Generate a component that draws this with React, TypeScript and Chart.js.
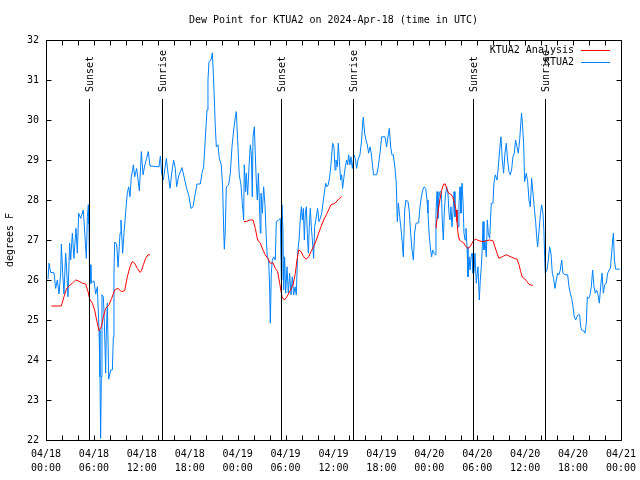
import React, { useEffect, useRef } from "react";
import { Chart, registerables } from "chart.js";

Chart.register(...registerables);

const TITLE = "Dew Point for KTUA2 on 2024-Apr-18 (time in UTC)";
const Y_LABEL = "degrees F";
const SERIES_ANALYSIS = "KTUA2 Analysis";
const SERIES_OBS = "KTUA2";

const xDateLabels = ["04/18", "04/18", "04/18", "04/18", "04/19", "04/19", "04/19", "04/19", "04/20", "04/20", "04/20", "04/20", "04/21"];
const xTimeLabels = ["00:00", "06:00", "12:00", "18:00", "00:00", "06:00", "12:00", "18:00", "00:00", "06:00", "12:00", "18:00", "00:00"];

const sunEventNames = ["Sunset", "Sunrise", "Sunset", "Sunrise", "Sunset", "Sunrise"];
const sunEventHours = [5.42, 14.56, 29.46, 38.48, 53.5, 62.5];

// Observations (hours since 04/18 00:00 UTC, degrees F)
const obsHours = [
  0.25, 0.38, 0.58, 1.0, 1.21, 1.42, 1.63, 1.84, 1.92, 2.09, 2.25, 2.46, 2.59, 2.75, 2.96, 3.09, 3.3, 3.5, 3.59, 3.76,
  3.92, 4.09, 4.34, 4.67, 4.92, 5.05, 5.18, 5.3, 5.38, 5.47, 5.55, 5.63, 6.01, 6.22, 6.43, 6.64, 6.76, 6.84, 6.93, 7.01,
  7.18, 7.3, 7.47, 7.55, 7.68, 7.85, 8.1, 8.31, 8.43, 8.51, 8.6, 8.85, 9.02, 9.27, 9.39, 9.6, 9.77, 9.97, 10.18, 10.35,
  10.52, 10.68, 10.85, 10.94, 11.1, 11.35, 11.69, 11.85, 11.94, 12.15, 12.35, 12.6, 12.81, 13.02, 14.15, 14.32, 14.48, 14.69, 15.07, 15.28,
  15.53, 15.78, 15.98, 16.19, 16.36, 16.61, 17.03, 17.28, 17.61, 17.86, 18.16, 18.41, 18.7, 18.91, 19.32, 19.53, 19.74, 19.95, 20.16, 20.28,
  20.41, 20.66, 20.83, 20.99, 21.2, 21.33, 21.53, 21.7, 21.95, 22.12, 22.25, 22.33, 22.45, 22.58, 22.87, 23.08, 23.29, 23.5, 23.71, 23.83,
  24.0, 24.2, 24.41, 24.58, 24.75, 24.83, 25.0, 25.08, 25.25, 25.42, 25.59, 25.72, 25.83, 25.92, 26.09, 26.21, 26.34, 26.46, 26.59, 26.71,
  26.84, 26.92, 27.09, 27.25, 27.42, 27.59, 27.71, 27.88, 28.0, 28.09, 28.21, 28.34, 28.51, 28.71, 28.84, 29.13, 29.34, 29.47, 29.55, 29.67,
  29.76, 29.88, 30.01, 30.18, 30.34, 30.51, 30.68, 30.84, 31.01, 31.18, 31.34, 31.51, 31.68, 31.84, 31.97, 32.1, 32.22, 32.35, 32.47, 32.6,
  32.72, 32.85, 32.97, 33.1, 33.22, 33.35, 33.51, 33.64, 33.85, 34.01, 34.18, 34.35, 34.52, 34.68, 34.85, 35.02, 35.18, 35.35, 35.52, 35.68,
  35.89, 36.06, 36.19, 36.31, 36.48, 36.6, 36.73, 36.89, 37.02, 37.14, 37.31, 37.48, 37.65, 37.77, 37.9, 38.06, 38.19, 38.36, 38.56, 38.73,
  38.9, 39.06, 39.31, 39.52, 39.65, 39.73, 39.9, 40.07, 40.23, 40.4, 40.57, 40.73, 40.9, 41.02, 41.4, 41.61, 41.82, 42.03, 42.45, 42.65,
  42.86, 42.99, 43.16, 43.32, 43.49, 43.7, 43.86, 43.99, 44.12, 44.29, 44.45, 44.62, 44.74, 44.91, 45.08, 45.33, 45.49, 45.66, 45.83, 46.0,
  46.16, 46.33, 46.66, 46.83, 47.0, 47.17, 47.37, 47.54, 47.71, 47.83, 48.0, 48.16, 48.29, 48.41, 48.58, 48.75, 48.83, 48.96, 49.08, 49.21,
  49.33, 49.5, 49.62, 49.75, 49.87, 50.0, 50.17, 50.33, 50.46, 50.58, 50.71, 50.83, 50.96, 51.09, 51.21, 51.34, 51.46, 51.59, 51.71, 51.84,
  51.96, 52.09, 52.21, 52.34, 52.47, 52.59, 52.72, 52.84, 52.97, 53.1, 53.22, 53.35, 53.46, 53.59, 53.71, 53.88, 54.09, 54.26, 54.38, 54.51,
  54.63, 54.72, 54.84, 54.97, 55.13, 55.26, 55.38, 55.55, 55.76, 55.97, 56.09, 56.26, 56.47, 56.64, 56.8, 56.97, 57.14, 57.3, 57.47, 57.64,
  57.8, 57.97, 58.14, 58.3, 58.47, 58.64, 58.8, 58.97, 59.14, 59.31, 59.47, 59.55, 59.68, 59.81, 59.93, 60.14, 60.31, 60.48, 60.64, 60.81,
  60.98, 61.15, 61.31, 61.44, 61.56, 61.73, 61.9, 62.06, 62.23, 62.35, 62.44, 62.52, 62.73, 62.9, 63.06, 63.23, 63.4, 63.56, 63.73, 63.9,
  64.07, 64.23, 64.4, 64.57, 64.73, 64.98, 65.32, 65.49, 65.65, 65.82, 65.99, 66.15, 66.32, 66.49, 66.65, 66.82, 66.95, 67.07, 67.32, 67.49,
  67.66, 67.78, 67.95, 68.12, 68.28, 68.45, 68.62, 68.78, 68.95, 69.12, 69.29, 69.45, 69.62, 69.79, 69.95, 70.16, 70.33, 70.5, 70.67, 70.83,
  70.96, 71.05, 71.17, 71.34, 71.84,
];
const obsValues = [
  26.02, 26.42, 26.19, 26.18, 25.79, 26.0, 25.65, 26.17, 26.9, 26.17, 25.65, 26.67, 26.25, 25.58, 26.92, 26.5, 27.17, 26.54, 26.83, 27.29,
  26.67, 27.67, 27.54, 27.75, 26.96, 26.54, 27.58, 27.88, 27.4, 25.88, 26.38, 25.92, 25.98, 25.65, 25.83, 24.75, 23.58, 22.04, 23.58, 25.63,
  25.58, 25.0, 23.67, 24.67, 25.42, 23.52, 23.75, 23.75, 24.58, 26.17, 26.95, 26.9, 26.32, 27.17, 27.5, 26.67, 27.18, 27.67, 28.17, 28.33,
  28.08, 28.58, 28.75, 28.88, 28.58, 28.79, 28.23, 28.83, 29.21, 28.63, 28.85, 29.04, 29.21, 28.85, 28.83, 29.1, 28.67, 28.5, 29.04, 28.67,
  28.29, 28.73, 29.0, 28.79, 28.33, 28.6, 28.81, 28.58, 28.29, 28.13, 27.79, 27.83, 28.17, 28.4, 28.4, 28.67, 28.83, 29.54, 30.25, 31.0,
  31.46, 31.5, 31.68, 31.0, 29.83, 29.33, 29.38, 29.04, 28.88, 28.33, 27.25, 26.77, 27.25, 28.33, 28.38, 28.67, 29.33, 29.75, 30.08, 30.21,
  29.5, 28.63, 28.38, 27.92, 27.5, 28.88, 28.21, 28.67, 28.13, 28.83, 29.38, 29.13, 28.08, 29.58, 29.83, 29.13, 28.42, 28.0, 28.67, 28.0,
  27.17, 28.17, 27.67, 28.33, 27.88, 27.0, 26.58, 26.5, 25.83, 24.92, 26.17, 26.5, 26.58, 26.5, 27.46, 27.5, 27.54, 26.0, 27.88, 27.25,
  25.75, 26.58, 25.67, 26.33, 25.67, 26.17, 25.63, 26.08, 25.63, 25.83, 25.63, 26.67, 27.0, 27.5, 27.83, 27.5, 27.79, 27.0, 27.67, 27.83,
  27.17, 26.67, 27.33, 27.79, 27.33, 27.0, 26.54, 27.33, 27.58, 27.79, 27.46, 27.54, 27.67, 27.92, 28.17, 28.42, 28.33, 28.38, 28.58, 28.88,
  29.42, 29.33, 28.75, 29.0, 28.83, 29.42, 29.0, 28.5, 28.63, 28.29, 28.58, 28.83, 29.0, 28.88, 29.13, 28.88, 29.08, 28.79, 29.13, 29.04,
  28.79, 29.0, 29.13, 29.5, 29.92, 30.07, 29.67, 29.5, 29.38, 29.17, 29.33, 29.17, 28.83, 28.63, 28.63, 28.83, 29.17, 29.58, 29.58, 29.33,
  29.63, 29.79, 29.33, 29.13, 29.13, 28.79, 28.42, 27.46, 27.92, 27.58, 27.29, 26.92, 26.58, 27.75, 28.0, 27.96, 27.71, 27.17, 26.75, 26.5,
  27.17, 27.42, 27.43, 27.83, 28.08, 28.25, 28.33, 28.29, 28.0, 27.67, 27.08, 26.75, 26.58, 26.75, 26.67, 26.63, 27.67, 28.21, 27.54, 28.08,
  28.21, 28.21, 27.5, 27.0, 27.67, 28.08, 28.33, 28.17, 27.67, 27.5, 27.83, 27.33, 27.71, 28.21, 27.58, 27.75, 27.67, 27.33, 27.92, 28.33,
  27.67, 28.42, 28.0, 27.17, 27.0, 27.29, 26.83, 26.08, 26.58, 26.25, 26.58, 26.67, 26.17, 26.17, 26.67, 25.92, 26.33, 25.5, 26.0, 26.33,
  26.83, 27.46, 26.75, 27.0, 26.58, 27.5, 27.17, 27.04, 27.92, 27.92, 28.42, 28.63, 28.5, 28.83, 29.25, 29.58, 29.0, 28.67, 29.17, 29.42,
  29.0, 28.71, 28.63, 28.75, 29.08, 29.17, 29.5, 29.33, 29.17, 29.5, 29.96, 30.17, 29.83, 29.42, 28.46, 28.67, 28.46, 28.0, 27.83, 28.54,
  28.17, 27.79, 27.46, 27.08, 26.83, 27.21, 27.63, 27.88, 27.67, 27.21, 26.58, 26.17, 26.25, 26.5, 26.83, 26.67, 26.17, 26.04, 25.79, 26.0,
  26.17, 26.13, 26.25, 26.5, 26.17, 26.13, 26.13, 25.83, 25.67, 25.54, 25.33, 25.08, 25.0, 25.08, 25.13, 25.13, 24.83, 24.75, 24.73, 24.67,
  24.92, 25.58, 25.54, 25.63, 25.83, 26.25, 25.83, 25.67, 25.75, 25.63, 25.42, 25.83, 26.17, 25.67, 25.88, 25.92, 26.17, 26.25, 26.29, 26.67,
  27.0, 27.17, 26.5, 26.27, 26.27,
];

// Analysis (null = no analysis available)
const anaHours = [
  0.67, 1.92, 2.25, 2.59, 2.88, 3.3, 3.71, 4.13, 4.55, 4.97, 5.26, 5.47, 5.8, 6.09, 6.34, 6.64, 6.93, 7.18, 7.47, 7.89,
  8.22, 8.6, 9.02, 9.43, 9.85, 10.18, 10.52, 10.81, 11.1, 11.44, 11.77, 11.94, 12.19, 12.48, 12.77, 13.02,
  18.0,
  24.75, 25.08, 25.5, 25.92, 26.21, 26.5, 26.84, 27.17, 27.46, 27.76, 28.09, 28.42, 28.72, 29.0, 29.26, 29.55, 29.84, 30.17, 30.51,
  30.93, 31.22, 31.43, 31.64, 31.93, 32.26, 32.6, 32.89, 33.18, 33.51, 33.85, 34.14, 34.43, 34.77, 35.1, 35.39, 35.68, 36.19, 36.73, 37.02,
  43.0,
  48.83, 49.0, 49.25, 49.5, 49.67, 49.83, 50.0, 50.17, 50.42, 50.67, 50.92, 51.17, 51.34, 51.46, 51.59, 51.76, 52.05, 52.34, 52.59, 52.84,
  53.1, 53.35, 53.6, 53.8, 54.22, 54.72, 55.13, 55.55, 55.97, 56.22, 56.47, 56.72, 57.01, 57.31, 57.64, 57.98, 58.31, 58.64, 58.98, 59.23,
  59.44, 59.64, 59.93, 60.23, 60.48, 60.77, 60.98,
];
const anaValues = [
  25.35, 25.35, 25.58, 25.79, 25.85, 25.92, 26.0, 25.97, 25.92, 25.9, 25.71, 25.52, 25.42, 25.25, 25.0, 24.73, 24.83, 25.08, 25.29, 25.38,
  25.54, 25.75, 25.79, 25.71, 25.73, 26.08, 26.33, 26.46, 26.42, 26.29, 26.19, 26.23, 26.38, 26.54, 26.63, 26.63,
  null,
  27.46, 27.46, 27.5, 27.5, 27.29, 27.0, 26.92, 26.75, 26.63, 26.54, 26.42, 26.43, 26.29, 26.21, 25.92, 25.58, 25.5, 25.58, 25.71,
  25.88, 26.17, 26.5, 26.75, 26.71, 26.58, 26.52, 26.58, 26.71, 26.83, 27.0, 27.17, 27.33, 27.5, 27.63, 27.75, 27.88, 27.92, 28.04, 28.08,
  null,
  27.29, 27.58, 27.92, 28.21, 28.33, 28.4, 28.4, 28.29, 28.17, 28.15, 28.08, 27.92, 27.75, 27.46, 27.17, 27.0, 26.96, 26.92, 26.83, 26.79,
  26.83, 26.92, 27.0, 27.02, 26.98, 26.96, 26.98, 27.0, 26.98, 26.83, 26.67, 26.54, 26.57, 26.6, 26.63, 26.6, 26.57, 26.54, 26.52, 26.38,
  26.21, 26.07, 26.03, 25.96, 25.89, 25.87, 25.87,
];

const X_MIN = 0;
const X_MAX = 72;
const X_MAJOR_STEP = 6;
const X_MINOR_STEP = 2;
const Y_MIN = 22;
const Y_MAX = 32;

const RED = "rgb(255,0,0)";
const BLUE = "rgb(0,128,255)";
const FAMILY = '"DejaVu Sans Mono", "Liberation Mono", monospace';
const FONT_SIZE = 10;

const overlayPlugin = {
  id: "gnuplotOverlay",
  afterDatasetsDraw(chart: any) {
    const { ctx, chartArea: a, scales } = chart;
    const xs = scales.x;
    const ys = scales.y;
    ctx.save();
    ctx.font = `${FONT_SIZE}px ${FAMILY}`;
    ctx.fillStyle = "#000";
    ctx.strokeStyle = "#000";
    ctx.lineWidth = 1;

    // sunrise / sunset markers
    sunEventHours.forEach((h, i) => {
      const px = Math.round(xs.getPixelForValue(h)) + 0.5;
      ctx.beginPath();
      ctx.moveTo(px, a.top + 59);
      ctx.lineTo(px, a.bottom);
      ctx.stroke();
      ctx.save();
      ctx.translate(px + 1, a.top + 52);
      ctx.rotate(-Math.PI / 2);
      ctx.textAlign = "left";
      ctx.textBaseline = "middle";
      ctx.fillText(sunEventNames[i], 0, 0);
      ctx.restore();
    });

    // frame
    const L = Math.round(a.left) + 0.5;
    const R = Math.round(a.right) + 0.5;
    const T = Math.round(a.top) + 0.5;
    const B = Math.round(a.bottom) + 0.5;
    ctx.beginPath();
    ctx.rect(L, T, R - L, B - T);
    ctx.stroke();

    // inward tick marks
    const tl = 5;
    ctx.beginPath();
    for (let h = X_MIN; h <= X_MAX; h += X_MINOR_STEP) {
      const px = Math.round(xs.getPixelForValue(h)) + 0.5;
      ctx.moveTo(px, B);
      ctx.lineTo(px, B - tl);
      ctx.moveTo(px, T);
      ctx.lineTo(px, T + tl);
    }
    for (let v = Y_MIN; v <= Y_MAX; v += 1) {
      const py = Math.round(ys.getPixelForValue(v)) + 0.5;
      ctx.moveTo(L, py);
      ctx.lineTo(L + tl, py);
      ctx.moveTo(R, py);
      ctx.lineTo(R - tl, py);
    }
    ctx.stroke();

    // legend
    const ds = chart.data.datasets;
    ds.forEach((d: any, i: number) => {
      const rowY = Math.round(a.top) + 10 + i * 12;
      ctx.textAlign = "right";
      ctx.textBaseline = "middle";
      ctx.fillStyle = "#000";
      ctx.fillText(d.label, 574, rowY + 0.5);
      ctx.strokeStyle = d.borderColor;
      ctx.lineWidth = 1;
      ctx.beginPath();
      ctx.moveTo(581, rowY + 0.5);
      ctx.lineTo(610, rowY + 0.5);
      ctx.stroke();
    });

    // title
    ctx.fillStyle = "#000";
    ctx.textAlign = "center";
    ctx.textBaseline = "middle";
    ctx.fillText(TITLE, (a.left + a.right) / 2, 20);
    ctx.restore();
  },
};

export default function App() {
  const canvasRef = useRef<HTMLCanvasElement | null>(null);

  useEffect(() => {
    const canvas = canvasRef.current;
    if (!canvas) return;
    const font = { family: FAMILY, size: FONT_SIZE };
    const chart = new Chart(canvas, {
      type: "line",
      data: {
        datasets: [
          {
            label: SERIES_ANALYSIS,
            data: anaHours.map((h, i) => ({ x: h, y: anaValues[i] })),
            borderColor: RED,
            backgroundColor: RED,
            borderWidth: 1,
            pointRadius: 0,
            spanGaps: false,
            tension: 0,
          },
          {
            label: SERIES_OBS,
            data: obsHours.map((h, i) => ({ x: h, y: obsValues[i] })),
            borderColor: BLUE,
            backgroundColor: BLUE,
            borderWidth: 1,
            pointRadius: 0,
            tension: 0,
          },
        ],
      },
      options: {
        animation: false,
        responsive: false,
        devicePixelRatio: 1,
        layout: { padding: { left: 0, right: 19, top: 40, bottom: 0 } },
        plugins: {
          legend: { display: false },
          title: { display: false },
          tooltip: { enabled: false },
        },
        scales: {
          x: {
            type: "linear",
            min: X_MIN,
            max: X_MAX,
            grid: { display: false, drawTicks: false },
            border: { display: false },
            afterFit: (s: any) => {
              s.height = 40;
              s.paddingLeft = 0;
              s.paddingRight = 0;
            },
            ticks: {
              stepSize: X_MAJOR_STEP,
              autoSkip: false,
              maxRotation: 0,
              minRotation: 0,
              padding: 7,
              color: "#000",
              font: { ...font, lineHeight: 1.4 },
              callback: (_v: any, idx: number) => [xDateLabels[idx], xTimeLabels[idx]],
            },
          },
          y: {
            min: Y_MIN,
            max: Y_MAX,
            grid: { display: false, drawTicks: false },
            border: { display: false },
            afterFit: (s: any) => {
              s.width = 46;
              s.paddingTop = 0;
              s.paddingBottom = 0;
            },
            ticks: { stepSize: 1, padding: 7, color: "#000", font },
            title: { display: true, text: Y_LABEL, color: "#000", font, padding: { top: 4, bottom: 0 } },
          },
        },
      },
      plugins: [overlayPlugin],
    });
    return () => chart.destroy();
  }, []);

  return (
    <div style={{ position: "fixed", left: 0, top: 0, width: 640, height: 480, background: "#fff" }}>
      <canvas ref={canvasRef} width={640} height={480} style={{ display: "block" }} />
    </div>
  );
}
